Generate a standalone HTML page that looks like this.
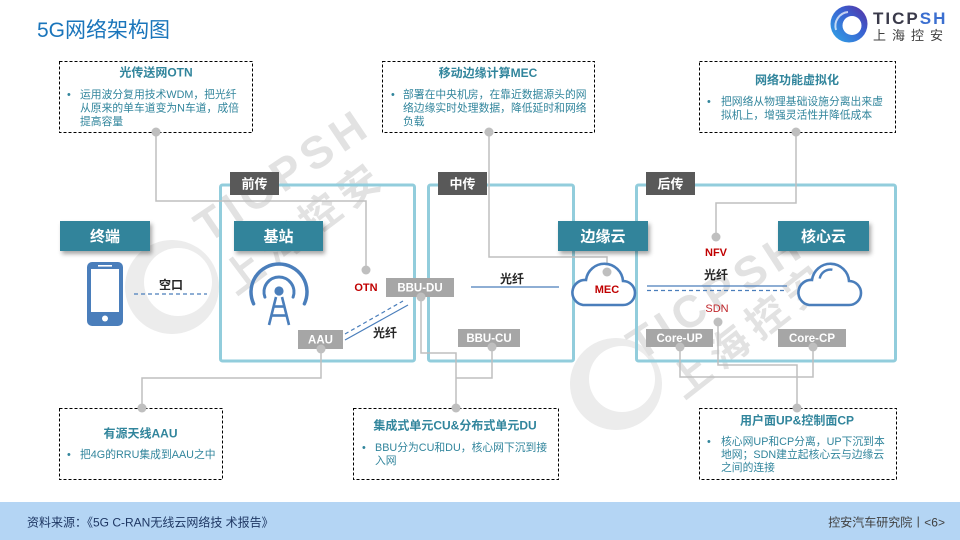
<!DOCTYPE html>
<html><head><meta charset="utf-8">
<style>
html,body{margin:0;padding:0;background:#fff;}
body{width:960px;height:540px;overflow:hidden;}
svg{display:block;}
</style></head>
<body>
<svg width="960" height="540" viewBox="0 0 960 540" xmlns="http://www.w3.org/2000/svg" font-family="'Liberation Sans','Noto Sans CJK SC',sans-serif">
<defs>
<filter id="sh" x="-10%" y="-20%" width="130%" height="160%"><feDropShadow dx="2" dy="3" stdDeviation="2" flood-color="#000" flood-opacity="0.35"/></filter>
<linearGradient id="lg" x1="0" y1="1" x2="1" y2="0"><stop offset="0" stop-color="#2fa8e8"/><stop offset="0.6" stop-color="#3a5fd0"/><stop offset="1" stop-color="#5a2f9e"/></linearGradient>
</defs>

<!-- watermarks -->
<g>
<circle cx="172" cy="287" r="47" fill="#ececec"/>
<circle cx="178" cy="282" r="34" fill="#fff"/>
<circle cx="616" cy="384" r="46" fill="#ececec"/>
<circle cx="622" cy="379" r="33" fill="#fff"/>
</g>
<g fill="#e2e2e2" font-weight="bold">
<text transform="translate(208,244) rotate(-34)" font-size="45" letter-spacing="6">TICPSH</text>
<text transform="translate(236,296) rotate(-37)" font-size="40" letter-spacing="8">上海控安</text>
<text transform="translate(640,362) rotate(-33)" font-size="45" letter-spacing="6">TICPSH</text>
<text transform="translate(684,400) rotate(-38)" font-size="40" letter-spacing="8">上海控安</text>
</g>

<!-- title -->
<text x="37" y="37" font-size="21" fill="#1a75bb">5G网络架构图</text>

<!-- logo -->
<circle cx="849" cy="24" r="18.5" fill="url(#lg)"/>
<circle cx="852" cy="25.5" r="9.5" fill="#fff"/>
<path d="M836,30 A14,14 0 0 1 848,12" stroke="#fff" stroke-width="2" fill="none" opacity="0.7"/>
<text x="873" y="24" font-size="17" font-weight="bold" letter-spacing="2" fill="#3a3a4a">TICP<tspan fill="#3b6fd0">SH</tspan></text>
<text x="873" y="40" font-size="13" letter-spacing="6" fill="#404040">上海控安</text>

<!-- phase frames -->
<g fill="none" stroke="#92cddc" stroke-width="3">
<rect x="220.5" y="185" width="194" height="176" rx="2"/>
<rect x="428.5" y="185" width="145" height="176" rx="2"/>
<rect x="636.5" y="185" width="259" height="176" rx="2"/>
</g>

<!-- gray connectors -->
<g fill="none" stroke="#bfbfbf" stroke-width="1.5">
<polyline points="156,132 156,201 366,201 366,270"/>
<polyline points="489,132 489,257 607,257 607,272"/>
<polyline points="796,132 796,203 716,203 716,237"/>
<polyline points="321,349 321,378 142,378 142,408"/>
<polyline points="421,297 421,353 456,353 456,408"/>
<polyline points="492,347 492,378 456,378"/>
<polyline points="680,347 680,377 813,377 813,347"/>
<polyline points="718,322 718,365 797,365 797,408"/>
</g>

<!-- phase labels -->
<g font-size="13" font-weight="bold" fill="#fff" text-anchor="middle">
<rect x="230" y="172" width="49" height="23" fill="#595959"/>
<text x="254.5" y="188.5">前传</text>
<rect x="438" y="172" width="49" height="23" fill="#595959"/>
<text x="462.5" y="188.5">中传</text>
<rect x="646" y="172" width="49" height="23" fill="#595959"/>
<text x="670.5" y="188.5">后传</text>
</g>

<!-- teal headers -->
<g fill="#31849b" filter="url(#sh)">
<rect x="60" y="221" width="90" height="30"/>
<rect x="234" y="221" width="89" height="30"/>
<rect x="558" y="221" width="90" height="30"/>
<rect x="778" y="221" width="91" height="30"/>
</g>
<g font-size="15" font-weight="bold" fill="#fff" text-anchor="middle">
<text x="105" y="241.5">终端</text>
<text x="278.5" y="241.5">基站</text>
<text x="603" y="241.5">边缘云</text>
<text x="823.5" y="241.5">核心云</text>
</g>

<!-- phone -->
<rect x="87" y="262" width="36" height="64" rx="5" fill="#4a7ebb"/>
<rect x="91" y="269" width="28" height="43" fill="#fff"/>
<rect x="98" y="265" width="14" height="1.6" fill="#fff"/>
<circle cx="105" cy="318.5" r="3" fill="#fff"/>

<!-- air interface -->
<text x="171" y="289" font-size="12" font-weight="bold" fill="#262626" text-anchor="middle">空口</text>
<line x1="134" y1="294" x2="207" y2="294" stroke="#4a7ebb" stroke-width="1.2" stroke-dasharray="4,3"/>

<!-- tower -->
<g fill="none" stroke="#4a7ebb" stroke-linecap="round">
<path d="M253.6,303.8 A28,28 0 1 1 304.4,303.8" stroke-width="3.5"/>
<path d="M264.9,297.1 A15,15 0 1 1 293.1,297.1" stroke-width="3"/>
<g stroke-width="2.6" stroke-linecap="butt">
<line x1="276" y1="297" x2="269" y2="325"/>
<line x1="282" y1="297" x2="289" y2="325"/>
<line x1="273" y1="306.5" x2="285" y2="306.5"/>
<line x1="271" y1="315.5" x2="287" y2="315.5"/>
</g>
</g>
<circle cx="279" cy="291" r="4.6" fill="#4a7ebb"/>

<!-- fiber lines -->
<g stroke="#4a7ebb" stroke-width="1.2" fill="none">
<line x1="345" y1="334" x2="403" y2="301" stroke-dasharray="4,3"/>
<line x1="345" y1="340" x2="408" y2="305"/>
<line x1="471" y1="287" x2="559" y2="287"/>
<line x1="647" y1="286" x2="787" y2="286"/>
<line x1="647" y1="290.5" x2="787" y2="290.5" stroke-dasharray="4,3"/>
</g>
<g font-size="12" font-weight="bold" fill="#262626" text-anchor="middle">
<text x="385" y="337">光纤</text>
<text x="512" y="283">光纤</text>
<text x="716" y="279">光纤</text>
</g>

<!-- clouds -->
<g fill="#fff" stroke="#4a7ebb" stroke-width="2.6">
<path d="M583,305 A12.6,12.6 0 0 1 586,280 A18.6,18.6 0 0 1 623,281 A12,12 0 0 1 623,305 Z"/>
<path d="M809,305 A12.6,12.6 0 0 1 812,280 A18.6,18.6 0 0 1 849,281 A12,12 0 0 1 849,305 Z"/>
</g>
<path d="M819.7,278.6 A11,11 0 0 1 832.4,269.7" fill="none" stroke="#4a7ebb" stroke-width="2.4"/>

<!-- gray boxes -->
<g fill="#a6a6a6">
<rect x="298" y="330" width="45" height="19"/>
<rect x="386" y="278" width="68" height="19"/>
<rect x="458" y="329" width="62" height="18"/>
<rect x="646" y="329" width="67" height="18"/>
<rect x="778" y="329" width="68" height="18"/>
</g>
<g font-size="11.5" font-weight="bold" fill="#fff" text-anchor="middle">
<text x="320.5" y="343.5">AAU</text>
<text x="420" y="291.5">BBU-DU</text>
<text x="489" y="342">BBU-CU</text>
<text x="679.5" y="342">Core-UP</text>
<text x="812" y="342">Core-CP</text>
</g>

<!-- red labels -->
<g font-size="11" text-anchor="middle" fill="#c00000">
<text x="366" y="291" font-weight="bold">OTN</text>
<text x="716" y="256" font-weight="bold">NFV</text>
<text x="717" y="312" fill="#c0282d">SDN</text>
<text x="607" y="293" font-weight="bold">MEC</text>
</g>

<!-- dots -->
<g fill="#bfbfbf">
<circle cx="156" cy="132" r="4.5"/><circle cx="489" cy="132" r="4.5"/><circle cx="796" cy="132" r="4.5"/>
<circle cx="366" cy="270" r="4.5"/><circle cx="607" cy="272" r="4.5"/><circle cx="716" cy="237" r="4.5"/>
<circle cx="321" cy="349" r="4.5"/><circle cx="421" cy="297" r="4.5"/><circle cx="492" cy="347" r="4.5"/>
<circle cx="680" cy="347" r="4.5"/><circle cx="813" cy="347" r="4.5"/><circle cx="718" cy="322" r="4.5"/>
</g>

<!-- dashed boxes -->
<g fill="#fff" stroke="#000" stroke-width="1" stroke-dasharray="3,2">
<rect x="59.5" y="61.5" width="193" height="71"/>
<rect x="382.5" y="61.5" width="212" height="71"/>
<rect x="699.5" y="61.5" width="196" height="71"/>
<rect x="59.5" y="408.5" width="163" height="71"/>
<rect x="353.5" y="408.5" width="205" height="71"/>
<rect x="699.5" y="408.5" width="197" height="71"/>
</g>
<g fill="#bfbfbf">
<circle cx="156" cy="132" r="4.5"/><circle cx="489" cy="132" r="4.5"/><circle cx="796" cy="132" r="4.5"/>
<circle cx="142" cy="408" r="4.5"/><circle cx="456" cy="408" r="4.5"/><circle cx="797" cy="408" r="4.5"/>
</g>

<!-- box titles -->
<g font-size="12" font-weight="bold" fill="#31859c" text-anchor="middle">
<text x="156" y="76.5">光传送网OTN</text>
<text x="488" y="77">移动边缘计算MEC</text>
<text x="797" y="84">网络功能虚拟化</text>
<text x="140.5" y="437.5">有源天线AAU</text>
<text x="455" y="429.5">集成式单元CU&amp;分布式单元DU</text>
<text x="797" y="424.5">用户面UP&amp;控制面CP</text>
</g>

<!-- bullets -->
<g font-size="10.8" fill="#31859c">
<text x="67" y="98">•</text>
<text x="80" y="98">运用波分复用技术WDM，把光纤</text>
<text x="80" y="111.5">从原来的单车道变为N车道，成倍</text>
<text x="80" y="125">提高容量</text>

<text x="391" y="98">•</text>
<text x="403" y="98">部署在中央机房，在靠近数据源头的网</text>
<text x="403" y="111.5">络边缘实时处理数据，降低延时和网络</text>
<text x="403" y="125">负载</text>

<text x="707" y="105">•</text>
<text x="721" y="105">把网络从物理基础设施分离出来虚</text>
<text x="721" y="118.5">拟机上，增强灵活性并降低成本</text>

<text x="67" y="458">•</text>
<text x="80" y="458">把4G的RRU集成到AAU之中</text>

<text x="362" y="451">•</text>
<text x="375" y="451">BBU分为CU和DU，核心网下沉到接</text>
<text x="375" y="464">入网</text>

<text x="707" y="445">•</text>
<text x="721" y="445">核心网UP和CP分离，UP下沉到本</text>
<text x="721" y="458">地网；SDN建立起核心云与边缘云</text>
<text x="721" y="471">之间的连接</text>
</g>

<!-- footer -->
<rect x="0" y="502" width="960" height="38" fill="#b4d5f4"/>
<text x="27" y="526.5" font-size="12" fill="#1f3864">资料来源：《5G C-RAN无线云网络技 术报告》</text>
<text x="945" y="526.5" font-size="12" fill="#404040" text-anchor="end">控安汽车研究院丨&lt;6&gt;</text>
</svg>
</body></html>
